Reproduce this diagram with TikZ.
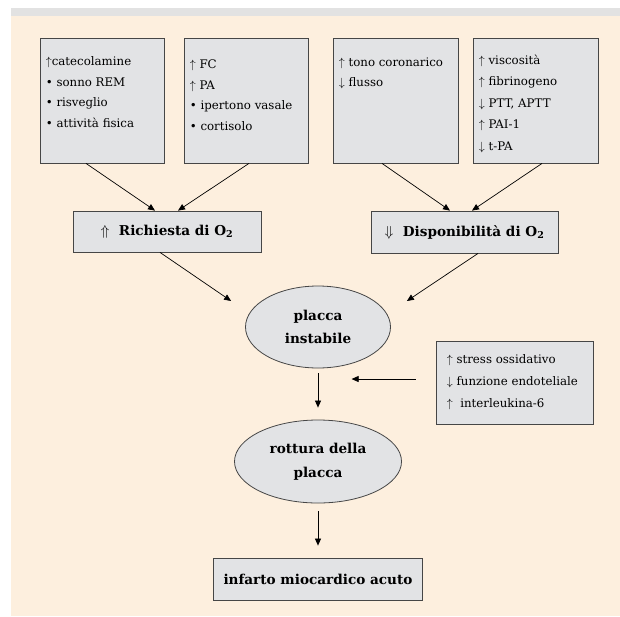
\documentclass[tikz,border=0pt]{standalone}
\usepackage{fontspec}
\setmainfont{DejaVu Serif}
\usetikzlibrary{shapes.geometric,arrows.meta}
\definecolor{cream}{RGB}{253,239,222}
\definecolor{band}{RGB}{226,226,226}
\definecolor{boxfill}{RGB}{226,227,229}
\definecolor{boxline}{RGB}{70,70,70}
\begin{document}
\begin{tikzpicture}[x=1pt,y=-1pt,
 panel/.style={draw=boxline,fill=boxfill,line width=0.8pt,inner sep=0pt},
 oval/.style={ellipse,draw=boxline,fill=boxfill,line width=0.8pt,inner sep=0pt},
 listtext/.style={anchor=north west,align=left,inner sep=0pt,font=\fontsize{11.8}{#1}\selectfont},
 listtext/.default={20.5},
 boldlbl/.style={font=\fontsize{13.6}{23.5}\selectfont\bfseries,align=center},
 arr/.style={-{Triangle[length=7pt,width=6pt]},line width=0.7pt}]
\useasboundingbox (0,0) rectangle (620,616);
\fill[white] (0,0) rectangle (620,616);
\fill[cream] (11,16) rectangle (620,616);
\fill[band] (11,8) rectangle (620,16);

% top boxes
\node[panel,minimum width=124pt,minimum height=125pt] (b1) at (102,100.5) {};
\node[panel,minimum width=124pt,minimum height=125pt] (b2) at (246,100.5) {};
\node[panel,minimum width=125pt,minimum height=125pt] (b3) at (395.5,100.5) {};
\node[panel,minimum width=125pt,minimum height=125pt] (b4) at (535.5,100.5) {};

\node[listtext={20.5}] (t1) at ([xshift=6pt,yshift=-19pt]b1.north west)
 {$\uparrow$catecolamine\\ \textbullet\ sonno REM\\ \textbullet\ risveglio\\ \textbullet\ attività fisica};
\node[listtext={20.7}] (t2) at ([xshift=6pt,yshift=-22pt]b2.north west)
 {$\uparrow$\ FC\\ $\uparrow$\ PA\\ \textbullet\ ipertono vasale\\ \textbullet\ cortisolo};
\node[listtext={20}] (t3) at ([xshift=6pt,yshift=-20.5pt]b3.north west)
 {$\uparrow$\ tono coronarico\\ $\downarrow$\ flusso};
\node[listtext={21.5}] (t4) at ([xshift=6pt,yshift=-17pt]b4.north west)
 {$\uparrow$\ viscosità\\ $\uparrow$\ fibrinogeno\\ $\downarrow$\ PTT, APTT\\ $\uparrow$\ PAI-1\\ $\downarrow$\ t-PA};

% middle boxes
\node[panel,boldlbl,minimum width=188pt,minimum height=41pt] (rich) at (167,231.5)
 {$\Uparrow$\ \ Richiesta di O\textsubscript{2}};
\node[panel,boldlbl,minimum width=187pt,minimum height=42pt] (disp) at (464.5,232)
 {$\Downarrow$\ \ Disponibilità di O\textsubscript{2}};

% ellipses
\node[oval,boldlbl,minimum width=145pt,minimum height=82pt] (e1) at (318,327)
 {placca\\instabile};
\node[oval,boldlbl,minimum width=167pt,minimum height=83pt] (e2) at (318,461.5)
 {rottura della\\placca};

% side box
\node[panel,minimum width=157pt,minimum height=83pt] (side) at (514.5,382.5) {};
\node[listtext={22}] (ts) at ([xshift=11pt,yshift=-13.5pt]side.north west)
 {$\uparrow$\ stress ossidativo\\ $\downarrow$\ funzione endoteliale\\ $\uparrow$\ \ interleukina-6};

% final box
\node[panel,boldlbl,minimum width=209pt,minimum height=42pt] (inf) at (318,579)
 {infarto miocardico acuto};

% arrows
\draw[arr] ([xshift=-16pt]b1.south) -- ([xshift=-12pt]rich.north);
\draw[arr] ([xshift=3pt]b2.south) -- ([xshift=11pt]rich.north);
\draw[arr] ([xshift=-13.5pt]b3.south) -- ([xshift=-14.5pt]disp.north);
\draw[arr] ([xshift=6.5pt]b4.south) -- ([xshift=7.5pt]disp.north);
\draw[arr] ([xshift=-7pt]rich.south) -- ([xshift=-14pt,yshift=26pt]e1.west);
\draw[arr] ([xshift=13.5pt]disp.south) -- ([xshift=16pt,yshift=26pt]e1.east);
\draw[arr] ([yshift=-5pt]e1.south) -- ([yshift=12pt]e2.north);
\draw[arr] ([yshift=-8pt]e2.south) -- ([yshift=12pt]inf.north);
\draw[arr] ([xshift=-20pt,yshift=3.5pt]side.west) -- ([xshift=-84pt,yshift=3.5pt]side.west);
\end{tikzpicture}
\end{document}
